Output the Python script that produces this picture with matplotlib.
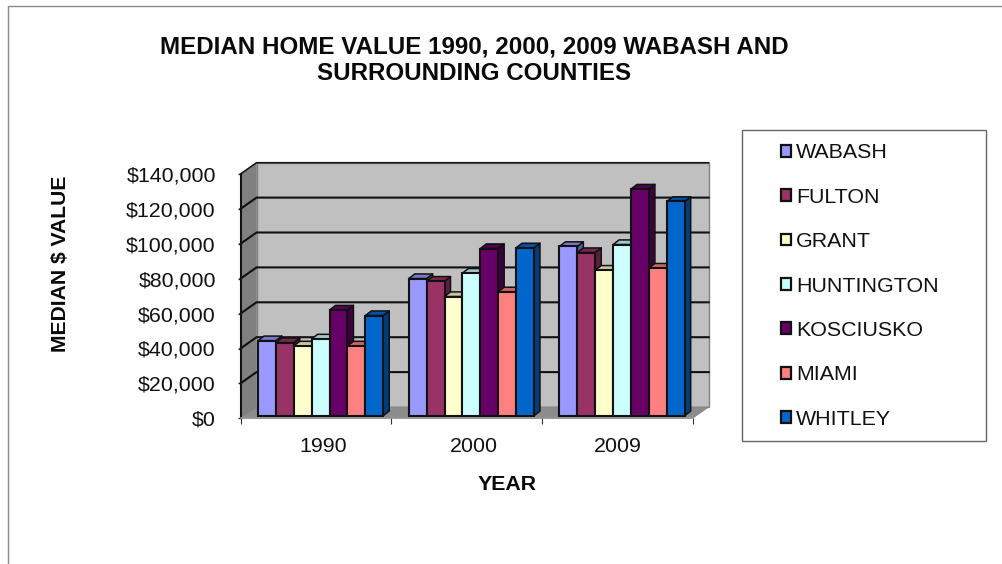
import matplotlib
matplotlib.use("Agg")
import matplotlib.pyplot as plt
from matplotlib.patches import Polygon, Patch, Rectangle
from matplotlib.lines import Line2D
from matplotlib.ticker import FuncFormatter

years = ["1990", "2000", "2009"]
counties = ["WABASH", "FULTON", "GRANT", "HUNTINGTON", "KOSCIUSKO", "MIAMI", "WHITLEY"]
colors = ["#9999FF", "#993366", "#FFFFCC", "#CCFFFF", "#660066", "#FF8080", "#0066CC"]
wabash = [43000, 78600, 97000]
fulton = [41900, 77100, 93500]
grant = [40000, 68300, 83400]
huntington = [44000, 81700, 98100]
kosciusko = [60600, 95800, 129900]
miami = [40000, 71000, 84600]
whitley = [57400, 96200, 122800]
series = [wabash, fulton, grant, huntington, kosciusko, miami, whitley]

W, H = 1002, 564
plt.rcParams["font.family"] = ["Liberation Sans", "DejaVu Sans"]
fig = plt.figure(figsize=(W / 100, H / 100), dpi=100)
L, R, T, B = 240.5, 692.7, 174.0, 418.3
ax = fig.add_axes([L / W, 1 - B / H, (R - L) / W, (B - T) / H])
ax.set_xlim(0, 3)
ax.set_ylim(0, 140000)
ax.patch.set_visible(False)

px = 3 / (R - L)
py = 140000 / (B - T)
wall_dx, wall_dy = 16 * px, 11.3 * py
bar_dx, bar_dy = 6 * px, 4.6 * py
base = 2.6 * py
bw, start = 0.1187, 0.116


def poly(pts, **kw):
    kw.setdefault("clip_on", False)
    ax.add_patch(Polygon(pts, closed=True, **kw))


# walls and floor
poly([(wall_dx, wall_dy), (3 + wall_dx, wall_dy), (3 + wall_dx, 140000 + wall_dy), (wall_dx, 140000 + wall_dy)],
     facecolor="#C0C0C0", edgecolor="#808080", lw=1, zorder=1)
poly([(0, 0), (wall_dx, wall_dy), (wall_dx, 140000 + wall_dy), (0, 140000)],
     facecolor="#808080", edgecolor="#808080", lw=0.5, zorder=1)
poly([(0, 0), (3, 0), (3 + wall_dx, wall_dy), (wall_dx, wall_dy)],
     facecolor="#8C8C8C", edgecolor="#808080", lw=0.5, zorder=1)

# gridlines on both walls
for v in range(20000, 140001, 20000):
    ax.add_line(Line2D([0, wall_dx, 3 + wall_dx], [v, v + wall_dy, v + wall_dy], color="#111111",
                       lw=1.5 if v < 140000 else 1.1, clip_on=False, zorder=2, solid_joinstyle="miter"))


def shade(c, f):
    rgb = matplotlib.colors.to_rgb(c)
    return tuple(x * f for x in rgb)


z = 3
for gi in range(len(years)):
    for si, (vals, c) in enumerate(zip(series, colors)):
        x0 = gi + start + si * bw
        x1 = x0 + bw
        top = base + vals[gi]
        poly([(x1, base), (x1 + bar_dx, base + bar_dy), (x1 + bar_dx, top + bar_dy), (x1, top)],
             facecolor=shade(c, 0.6), edgecolor="#111111", lw=1.1, zorder=z, joinstyle="round")
        poly([(x0, top), (x1, top), (x1 + bar_dx, top + bar_dy), (x0 + bar_dx, top + bar_dy)],
             facecolor=shade(c, 0.78), edgecolor="#111111", lw=1.1, zorder=z, joinstyle="round")
        ax.bar(x0, vals[gi], width=bw, bottom=base, align="edge", color=c, edgecolor="#111111",
               lw=1.5, zorder=z + 0.5, clip_on=False)
        z += 1

# axes
for s in ("top", "right"):
    ax.spines[s].set_visible(False)
ax.spines["left"].set_linewidth(1.5)
ax.spines["left"].set_color("#111111")
ax.spines["bottom"].set_linewidth(1.2)
ax.spines["bottom"].set_color("#999999")
ax.spines["left"].set_zorder(200)
ax.spines["bottom"].set_zorder(200)

ax.set_yticks(range(0, 140001, 20000))
ax.yaxis.set_major_formatter(FuncFormatter(lambda v, _: f"${v:,.0f}"))
ax.tick_params(axis="y", length=2.2, width=1, pad=15.5, labelsize=15.4, color="#333333", labelcolor="#111111")
ax.set_xticks([0, 1, 2, 3])
ax.set_xticklabels([])
ax.tick_params(axis="x", which="major", length=4.5, width=0.8, color="#333333")
ax.set_xticks([0.55, 1.55, 2.5], minor=True)
ax.set_xticklabels(years, minor=True)
ax.tick_params(axis="x", which="minor", length=0, pad=13.5, labelsize=15.4, labelcolor="#111111")

# title and axis labels
fig.text(474 / W, 1 - 60.5 / H, "MEDIAN HOME VALUE 1990, 2000, 2009 WABASH AND\nSURROUNDING COUNTIES",
         ha="center", va="center", fontsize=17.4, fontweight="bold", color="#0a0a0a", linespacing=1.2)
ax.set_xlabel("YEAR", fontsize=15.3, fontweight="bold", color="#0a0a0a")
ax.xaxis.set_label_coords((507 - L) / (R - L), (B - 485) / (B - T), transform=ax.transAxes)
ax.xaxis.label.set_verticalalignment("center")
ax.set_ylabel("MEDIAN $ VALUE", fontsize=15.2, fontweight="bold", color="#0a0a0a")
ax.yaxis.set_label_coords((61 - L) / (R - L), (B - 264) / (B - T), transform=ax.transAxes)
ax.yaxis.label.set_verticalalignment("center")

# legend box and legend
fig.add_artist(Rectangle((741.5 / W, 1 - 440.5 / H), 244 / W, 310.5 / H, transform=fig.transFigure,
                         facecolor="white", edgecolor="#666666", lw=1, zorder=5))
handles = [Patch(facecolor=c, edgecolor="#111111", lw=1.6) for c in colors]
leg = fig.legend(handles, counties, loc="upper left", bbox_to_anchor=(781 / W, 1 - 143.5 / H),
                 bbox_transform=fig.transFigure, frameon=False, fontsize=15.4, handlelength=0.47,
                 handleheight=0.47, handletextpad=0.22, labelspacing=1.185, borderpad=0, borderaxespad=0,
                 labelcolor="#111111")
leg.set_zorder(6)

# chart-area border, cut off by the image edges
fig.add_artist(Line2D([8 / W, 8 / W, 1], [0, 1 - 5.5 / H, 1 - 5.5 / H], transform=fig.transFigure,
                      color="#8a8a8a", lw=1, zorder=0))

fig.savefig("out.png", dpi=100)
